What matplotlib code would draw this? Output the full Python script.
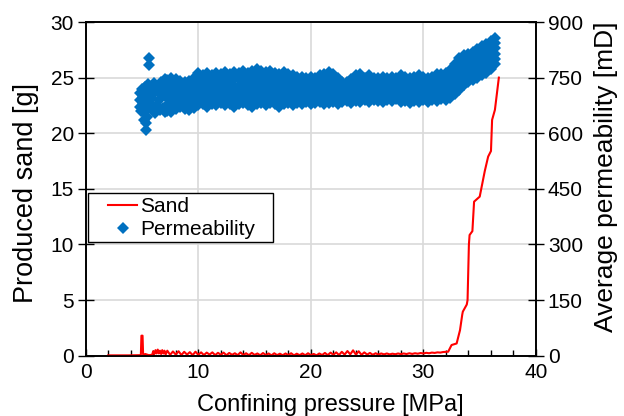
import matplotlib
matplotlib.use("Agg")
import matplotlib.pyplot as plt
from matplotlib.ticker import MultipleLocator
from matplotlib.patches import Rectangle

plt.rcParams['font.family'] = ['Liberation Sans', 'DejaVu Sans']

# ---------------- Sand (left axis, g) ----------------
sand_start_p = [2.0, 3.8, 4.9, 4.95, 5.05, 5.1, 5.3, 5.6, 5.9, 6.0, 6.1, 6.2, 6.3, 6.4, 6.5,
                6.6, 6.7, 6.8, 6.9, 7.0, 7.1]
sand_start_g = [0.03, 0.03, 0.05, 1.8, 1.8, 0.1, 0.15, 0.05, 0.08, 0.4, 0.15, 0.5, 0.2, 0.55, 0.2,
                0.45, 0.15, 0.5, 0.2, 0.45, 0.1]
sand_mid_p = [7.25, 7.5, 7.75, 8.0, 8.25, 8.5, 8.75, 9.0, 9.25, 9.5, 9.75, 10.0,
              10.25, 10.5, 10.75, 11.0, 11.25, 11.5, 11.75, 12.0, 12.25, 12.5, 12.75, 13.0,
              13.25, 13.5, 13.75, 14.0, 14.25, 14.5, 14.75, 15.0, 15.25, 15.5, 15.75, 16.0,
              16.25, 16.5, 16.75, 17.0, 17.25, 17.5, 17.75, 18.0, 18.25, 18.5, 18.75, 19.0,
              19.25, 19.5, 19.75, 20.0, 20.25, 20.5, 20.75, 21.0, 21.25, 21.5, 21.75, 22.0,
              22.25, 22.5, 22.75, 23.0, 23.25, 23.5, 23.75, 24.0, 24.25, 24.5, 24.75, 25.0,
              25.25, 25.5, 25.75, 26.0, 26.25, 26.5, 26.75, 27.0, 27.25, 27.5, 27.75, 28.0,
              28.25, 28.5, 28.75, 29.0, 29.25, 29.5, 29.75, 30.0, 30.25, 30.5, 30.75, 31.0,
              31.25, 31.5, 31.75, 32.0]
sand_mid_g = [0.45, 0.08, 0.38, 0.10, 0.40, 0.06, 0.35, 0.10, 0.32, 0.05, 0.36, 0.08,
              0.30, 0.06, 0.28, 0.10, 0.30, 0.05, 0.26, 0.08, 0.28, 0.04, 0.25, 0.08,
              0.22, 0.05, 0.30, 0.06, 0.22, 0.04, 0.26, 0.07, 0.20, 0.04, 0.24, 0.06,
              0.20, 0.03, 0.22, 0.05, 0.18, 0.04, 0.20, 0.06, 0.22, 0.03, 0.18, 0.05,
              0.20, 0.04, 0.22, 0.05, 0.16, 0.03, 0.20, 0.06, 0.25, 0.05, 0.28, 0.08,
              0.30, 0.06, 0.35, 0.10, 0.42, 0.12, 0.48, 0.10, 0.40, 0.08, 0.30, 0.10,
              0.25, 0.08, 0.22, 0.10, 0.20, 0.12, 0.20, 0.12, 0.18, 0.13, 0.20, 0.14,
              0.20, 0.15, 0.22, 0.16, 0.22, 0.18, 0.24, 0.20, 0.26, 0.22, 0.28, 0.25,
              0.30, 0.28, 0.33, 0.35]
sand_end_p = [32.2, 32.5, 32.95, 33.25, 33.45, 33.5, 33.85, 33.92, 34.04, 34.1, 34.35, 34.5,
              35.0, 35.15, 35.45, 35.75, 36.0, 36.1, 36.35, 36.7]
sand_end_g = [0.36, 0.96, 1.10, 2.30, 3.70, 3.96, 4.60, 5.00, 10.0, 10.85, 11.2, 13.85,
              14.3, 15.05, 16.6, 17.9, 18.4, 21.2, 22.1, 25.0]

# ---------------- Permeability (right axis, mD) ----------------
perm_early_p = [4.8, 4.8, 4.85, 4.9, 5.0, 5.05, 5.1, 5.15, 5.2, 5.3, 5.35, 5.4, 5.4, 5.45,
                5.5, 5.55, 5.6, 5.63, 5.63, 5.7, 5.8, 5.9, 6.0, 6.1, 6.2, 6.2, 6.3, 6.4,
                6.5, 6.6, 6.7, 6.8, 6.9, 7.0, 7.0, 7.0]
perm_early_v = [690, 672, 708, 660, 720, 681, 699, 636, 657, 726, 690, 609, 627, 645,
                669, 732, 708, 785, 803, 681, 720, 696, 660, 735, 654, 711, 675, 726,
                690, 663, 738, 702, 669, 747, 657, 717]

perm_p = [7.2, 7.6, 8.0, 8.4, 8.8, 9.2, 9.6, 10.0, 10.4, 10.8, 11.2, 11.6, 12.0, 12.4,
          12.8, 13.2, 13.6, 14.0, 14.4, 14.8, 15.2, 15.6, 16.0, 16.4, 16.8, 17.2, 17.6,
          18.0, 18.4, 18.8, 19.2, 19.6, 20.0, 20.4, 20.8, 21.2, 21.6, 22.0, 22.4, 22.8,
          23.2, 23.6, 24.0, 24.4, 24.8, 25.2, 25.6, 26.0, 26.4, 26.8, 27.2, 27.6, 28.0,
          28.4, 28.8, 29.2, 29.6, 30.0, 30.4, 30.8, 31.2, 31.6, 32.0, 32.4, 32.8, 33.2,
          33.6, 34.0, 34.4, 34.8, 35.2, 35.6, 36.0, 36.4]
perm_top = [744, 750, 747, 741, 738, 741, 750, 762, 756, 762, 756, 762, 759, 765,
            759, 765, 762, 768, 762, 768, 774, 768, 765, 768, 762, 759, 765,
            759, 756, 753, 753, 750, 753, 750, 756, 759, 765, 759, 750, 738,
            738, 747, 756, 759, 750, 756, 750, 750, 753, 750, 753, 750, 756,
            753, 750, 753, 756, 753, 750, 753, 759, 759, 762, 771, 786, 804,
            810, 813, 819, 828, 834, 840, 849, 858]
perm_r2 = [727, 731, 731, 727, 724, 725, 734, 745, 740, 744, 740, 745, 743, 747,
           743, 746, 745, 751, 745, 749, 755, 751, 747, 751, 745, 742, 748,
           743, 740, 739, 738, 737, 738, 736, 742, 743, 748, 744, 736, 727,
           728, 734, 742, 744, 738, 742, 738, 737, 739, 738, 740, 739, 742,
           740, 736, 740, 742, 740, 737, 740, 745, 746, 748, 756, 770, 787,
           794, 798, 804, 812, 818, 824, 834, 844]
perm_r3 = [710, 713, 715, 713, 709, 710, 718, 727, 725, 726, 725, 727, 728, 729,
           727, 728, 728, 733, 727, 730, 736, 733, 729, 733, 728, 724, 730,
           728, 724, 724, 723, 724, 723, 722, 727, 727, 731, 729, 721, 716,
           718, 721, 728, 729, 726, 727, 726, 725, 725, 726, 727, 727, 727,
           727, 722, 727, 727, 728, 724, 728, 730, 733, 733, 741, 754, 769,
           778, 783, 789, 797, 803, 809, 819, 829]
perm_r4 = [694, 694, 698, 700, 695, 694, 701, 710, 709, 708, 709, 710, 712, 711,
           710, 709, 712, 716, 710, 710, 716, 716, 711, 716, 712, 707, 713,
           712, 707, 710, 708, 710, 708, 709, 713, 710, 715, 714, 707, 706,
           707, 707, 715, 714, 714, 713, 714, 712, 712, 714, 713, 716, 713,
           713, 709, 713, 713, 715, 710, 715, 716, 719, 719, 726, 737, 752,
           761, 768, 774, 781, 787, 793, 804, 815]
perm_r5 = [677, 676, 682, 686, 680, 679, 685, 692, 694, 690, 694, 692, 697, 693,
           694, 691, 695, 698, 692, 691, 697, 698, 693, 698, 695, 689, 695,
           697, 691, 695, 693, 697, 693, 695, 698, 694, 698, 699, 692, 695,
           697, 694, 701, 699, 702, 698, 702, 700, 698, 702, 700, 704, 698,
           700, 695, 700, 698, 703, 697, 703, 701, 706, 704, 711, 721, 734,
           745, 753, 759, 766, 772, 778, 789, 800]
perm_bot = [660, 657, 666, 672, 666, 663, 669, 675, 678, 672, 678, 675, 681, 675,
            678, 672, 678, 681, 675, 672, 678, 681, 675, 681, 678, 672, 678,
            681, 675, 681, 678, 684, 678, 681, 684, 678, 681, 684, 678, 684,
            687, 681, 687, 684, 690, 684, 690, 687, 684, 690, 687, 693, 684,
            687, 681, 687, 684, 690, 684, 690, 687, 693, 690, 696, 705, 717,
            729, 738, 744, 750, 756, 762, 774, 786]

x_ticks = [0, 10, 20, 30, 40]
y_ticks = [0, 5, 10, 15, 20, 25, 30]
y2_ticks = [0, 150, 300, 450, 600, 750, 900]

sand_color = '#FF0000'
perm_color = '#0070C0'

W, H = 624, 416
fig = plt.figure(figsize=(6.24, 4.16), dpi=100)
ax = fig.add_axes([85.7 / W, 1 - 355.7 / H, 450.3 / W, 333.7 / H])
ax2 = ax.twinx()

sand_p = sand_start_p + sand_mid_p + sand_end_p
sand_g = sand_start_g + sand_mid_g + sand_end_g
line_sand, = ax.plot(sand_p, sand_g, color=sand_color, lw=1.5, label='Sand', zorder=3)

ms = 6.5
mk = dict(linestyle='none', marker='D', color=perm_color, markersize=ms,
          markeredgewidth=0, zorder=2)
ax2.plot(perm_early_p, perm_early_v, **mk)
for row in [perm_r3, perm_r4, perm_r2, perm_r5, perm_top, perm_bot]:
    ax2.plot(perm_p, row, **mk)
perm_handle, = ax2.plot([], [], label='Permeability', **mk)

ax.set_xlim(0, 40)
ax.set_ylim(0, 30)
ax2.set_ylim(0, 900)
ax.set_xticks(x_ticks)
ax.set_yticks(y_ticks)
ax2.set_yticks(y2_ticks)
ax.xaxis.set_minor_locator(MultipleLocator(2))

ax.grid(True, which='major', color='#d9d9d9', lw=1.2)
ax.set_axisbelow(True)

fs = 15
ax.tick_params(axis='x', which='major', direction='in', length=5, width=1, labelsize=fs, pad=5)
ax.tick_params(axis='x', which='minor', direction='in', length=4, width=1)
ax.tick_params(axis='y', which='major', direction='inout', length=11, width=1, labelsize=fs, pad=3)
ax2.tick_params(axis='y', which='major', direction='inout', length=11, width=1, labelsize=fs, pad=3)

for a in (ax, ax2):
    for s in a.spines.values():
        s.set_color('black')
        s.set_linewidth(1.2)

fig.text(26 / W, 1 - 193 / H, 'Produced sand [g]', fontsize=19.5, rotation=90,
         ha='center', va='center')
fig.text(606 / W, 1 - 177 / H, 'Average permeability [mD]', fontsize=19, rotation=90,
         ha='center', va='center')
fig.text(330 / W, 1 - 411 / H, 'Confining pressure [MPa]', fontsize=17,
         ha='center', va='baseline')

# legend: frame drawn as a box, entries from the real legend
ax2.add_patch(Rectangle((2.3 / 450.3, (355.7 - 242) / 333.7), 185 / 450.3, 49 / 333.7,
                        transform=ax2.transAxes, facecolor='white', edgecolor='black',
                        lw=1.0, zorder=4))
leg = ax2.legend(handles=[line_sand, perm_handle], loc='upper left',
                 bbox_to_anchor=((108 - 85.7) / 450.3, (355.7 - 197) / 333.7),
                 frameon=False, fontsize=15, handlelength=1.4, handletextpad=0.15,
                 borderpad=0, labelspacing=0.2, borderaxespad=0)
leg.set_zorder(5)

fig.savefig('out.png', dpi=100)
